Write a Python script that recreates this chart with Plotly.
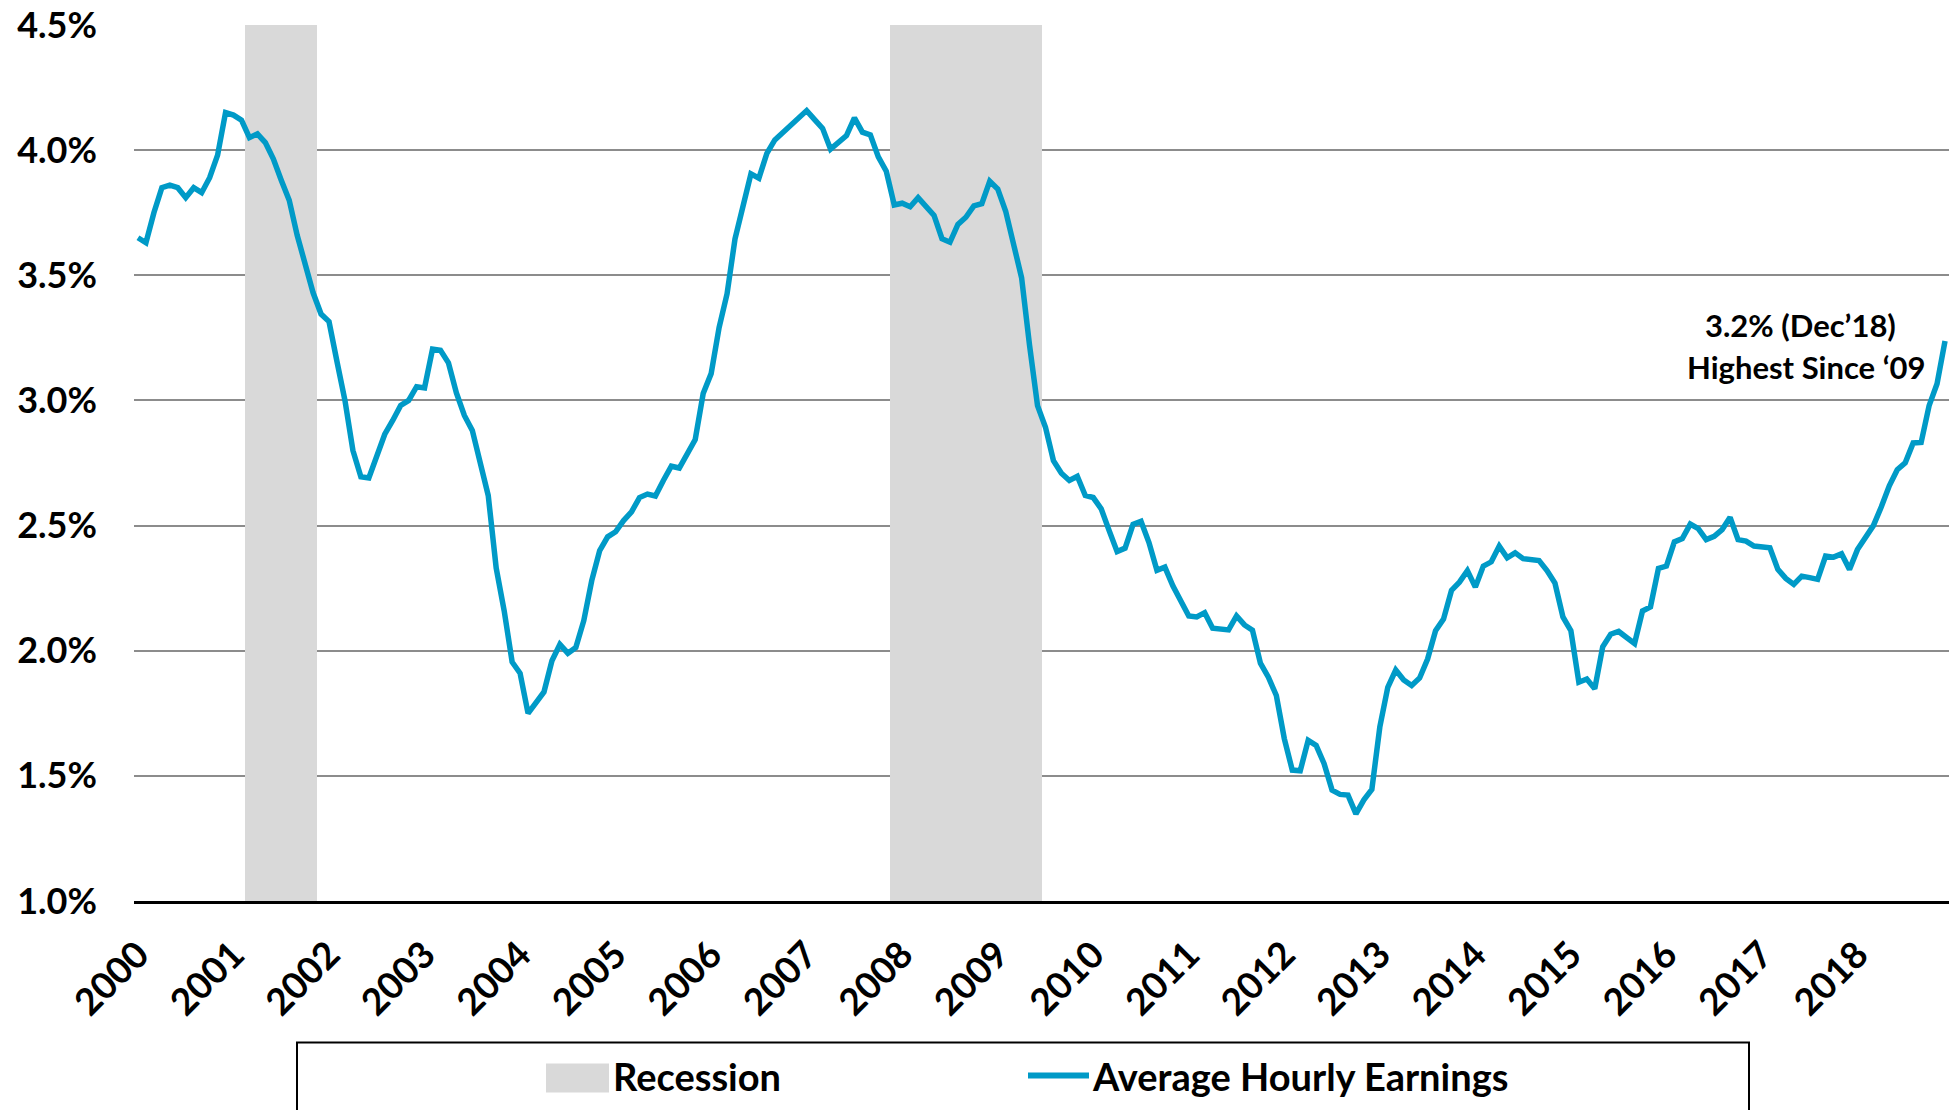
import pandas as pd
import plotly.graph_objects as go

# ---------------- data ----------------
start_month = "2000-01"
n_months = 228
months = pd.date_range(start_month, periods=n_months, freq="MS").strftime("%Y-%m").tolist()

# Average Hourly Earnings, y/y % change, Jan-2000 .. Dec-2018
ahe_yoy = [
    3.65, 3.63, 3.75, 3.85, 3.86, 3.85, 3.81, 3.85, 3.83, 3.89, 3.98, 4.15,   # 2000
    4.14, 4.12, 4.05, 4.065, 4.03, 3.965, 3.88, 3.80, 3.66, 3.54, 3.43, 3.345,  # 2001
    3.315, 3.155, 3.00, 2.80, 2.695, 2.69, 2.775, 2.865, 2.92, 2.98, 3.00, 3.055,  # 2002
    3.05, 3.205, 3.20, 3.15, 3.03, 2.94, 2.88, 2.755, 2.62, 2.33, 2.16, 1.955,  # 2003
    1.91, 1.75, 1.79, 1.835, 1.96, 2.025, 1.99, 2.013, 2.12, 2.28, 2.40, 2.455,  # 2004
    2.475, 2.52, 2.555, 2.612, 2.626, 2.618, 2.68, 2.737, 2.73, 2.787, 2.844, 3.028,  # 2005
    3.107, 3.291, 3.426, 3.646, 3.767, 3.905, 3.888, 3.987, 4.041, 4.072, 4.101, 4.132,  # 2006
    4.158, 4.122, 4.087, 4.004, 4.03, 4.058, 4.129, 4.072, 4.061, 3.973, 3.916, 3.781,  # 2007
    3.788, 3.774, 3.81, 3.777, 3.739, 3.646, 3.632, 3.703, 3.732, 3.777, 3.786, 3.876,  # 2008
    3.845, 3.756, 3.618, 3.49, 3.22, 2.979, 2.893, 2.759, 2.709, 2.68, 2.697, 2.62,  # 2009
    2.612, 2.567, 2.48, 2.396, 2.41, 2.505, 2.517, 2.432, 2.321, 2.334, 2.259, 2.196,  # 2010
    2.139, 2.135, 2.152, 2.09, 2.086, 2.083, 2.139, 2.103, 2.082, 1.95, 1.894, 1.821,  # 2011
    1.649, 1.523, 1.52, 1.642, 1.622, 1.549, 1.443, 1.426, 1.423, 1.348, 1.404, 1.446,  # 2012
    1.695, 1.854, 1.923, 1.883, 1.861, 1.891, 1.967, 2.08, 2.126, 2.241, 2.274, 2.32,  # 2013
    2.254, 2.338, 2.355, 2.418, 2.371, 2.391, 2.368, 2.363, 2.36, 2.32, 2.27, 2.135,  # 2014
    2.08, 1.874, 1.887, 1.848, 2.016, 2.066, 2.077, 2.053, 2.029, 2.159, 2.175, 2.329,  # 2015
    2.338, 2.435, 2.448, 2.506, 2.488, 2.444, 2.457, 2.484, 2.533, 2.444, 2.438, 2.418,  # 2016
    2.415, 2.411, 2.325, 2.289, 2.265, 2.298, 2.292, 2.285, 2.378, 2.374, 2.387, 2.325,  # 2017
    2.404, 2.448, 2.50, 2.575, 2.659, 2.723, 2.751, 2.83, 2.832, 2.979, 3.067, 3.237,  # 2018
]

# NBER recessions (first month, last month)
recessions = [("2001-03", "2001-11"), ("2007-12", "2009-06")]

y_min, y_max = 1.0, 4.5
y_tickvals = [1.0, 1.5, 2.0, 2.5, 3.0, 3.5, 4.0, 4.5]
y_ticktext = ["1.0%", "1.5%", "2.0%", "2.5%", "3.0%", "3.5%", "4.0%", "4.5%"]
x_tickvals = [m for m in months if m.endswith("-01")]
x_ticktext = [m[:4] for m in x_tickvals]

annotation_lines = ["3.2% (Dec\u201918)", "Highest Since \u201809"]
legend_names = ["Recession", "Average Hourly Earnings"]

# ---------------- styling ----------------
W, H = 1955, 1110
L, R, T, B = 134, 6, 24, 208.5
PW, PH = W - L - R, H - T - B
FONT = "Lato"
LINE_COLOR = "#009AC7"
REC_COLOR = "#D9D9D9"
Y_PAD = 0.004  # keeps the top gridline/label inside the range


def px_x(px):
    return (px - L) / PW


def px_y(py):
    return (H - B - py) / PH


rec_height = []
for m in months:
    inside = any(a <= m <= b for a, b in recessions)
    rec_height.append(y_max - y_min if inside else None)

fig = go.Figure()
fig.add_trace(go.Bar(
    x=months, y=rec_height, base=y_min, name=legend_names[0],
    marker=dict(color=REC_COLOR, line=dict(width=0)),
    showlegend=False, hoverinfo="skip",
))
fig.add_trace(go.Scatter(
    x=months, y=ahe_yoy, mode="lines", name=legend_names[1],
    line=dict(color=LINE_COLOR, width=5.5),
    showlegend=False,
))

fig.update_layout(
    width=W, height=H,
    margin=dict(l=L, r=R, t=T, b=B, pad=0, autoexpand=False),
    paper_bgcolor="white", plot_bgcolor="white",
    bargap=0,
    font=dict(family=FONT, color="black"),
    showlegend=False,
)
fig.update_xaxes(
    type="category", categoryorder="array", categoryarray=months,
    range=[-0.5, n_months - 0.5],
    tickmode="array", tickvals=x_tickvals, ticktext=x_ticktext,
    tickangle=-45, tickfont=dict(family=FONT, size=37, weight="bold", color="black"),
    ticklabelstandoff=14, ticklabeloverflow="allow", automargin=False,
    showgrid=False, showline=True, linecolor="black", linewidth=3,
    ticks="", zeroline=False,
)
fig.update_yaxes(
    range=[y_min, y_max + Y_PAD],
    tickmode="array", tickvals=y_tickvals, ticktext=y_ticktext,
    tickfont=dict(family=FONT, size=36, weight="bold", color="black"),
    ticklabeloverflow="allow", automargin=False,
    showgrid=True, gridcolor="#8C8C8C", gridwidth=2,
    showline=False, zeroline=False, ticks="", ticklabelstandoff=36,
)

# annotation
ann_font = dict(family=FONT, size=31, weight="bold", color="black")
fig.add_annotation(text=annotation_lines[0], x=px_x(1800), y=px_y(325), xref="paper", yref="paper",
                   xanchor="center", yanchor="middle", showarrow=False, font=ann_font)
fig.add_annotation(text=annotation_lines[1], x=px_x(1806), y=px_y(367), xref="paper", yref="paper",
                   xanchor="center", yanchor="middle", showarrow=False, font=ann_font)

# legend (drawn as a boxed key below the chart)
fig.add_shape(type="rect", xref="paper", yref="paper",
              x0=px_x(297), x1=px_x(1749), y0=px_y(1043), y1=px_y(1140),
              line=dict(color="black", width=2), fillcolor="rgba(0,0,0,0)", layer="above")
fig.add_shape(type="rect", xref="paper", yref="paper",
              x0=px_x(546), x1=px_x(609), y0=px_y(1064), y1=px_y(1093),
              line=dict(width=0), fillcolor=REC_COLOR, layer="above")
fig.add_shape(type="line", xref="paper", yref="paper",
              x0=px_x(1028), x1=px_x(1089), y0=px_y(1076), y1=px_y(1076),
              line=dict(color=LINE_COLOR, width=6), layer="above")
leg_font = dict(family=FONT, size=38, weight="bold", color="black")
fig.add_annotation(text=legend_names[0], x=px_x(611), y=px_y(1077), xref="paper", yref="paper",
                   xanchor="left", yanchor="middle", showarrow=False, font=leg_font)
fig.add_annotation(text=legend_names[1], x=px_x(1090), y=px_y(1077), xref="paper", yref="paper",
                   xanchor="left", yanchor="middle", showarrow=False, font=leg_font)

fig.write_html(
    "out.html",
    config={"displayModeBar": False},
    post_script="document.body.style.margin='0';document.body.style.overflow='hidden';",
)
